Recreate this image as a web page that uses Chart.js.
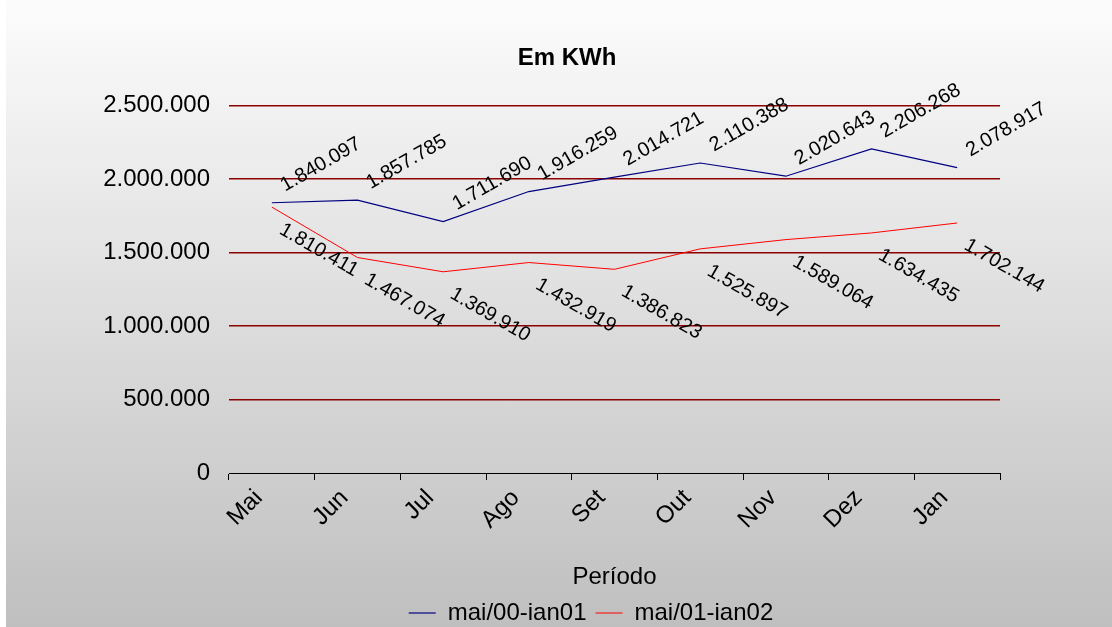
<!DOCTYPE html>
<html>
<head>
<meta charset="utf-8">
<script src="https://cdn.jsdelivr.net/npm/chart.js@4"></script>
<style>
  html, body { margin: 0; padding: 0; background: #fff; overflow: hidden; }
  #wrap {
    position: absolute; left: 6px; top: 0;
    width: 1106px; height: 640px;
    background: linear-gradient(to bottom, #fcfcfc 0px, #bfbfbf 627px, #bdbdbd 640px);
  }
</style>
</head>
<body>
<div id="wrap"><canvas id="consumo"></canvas></div>
<script>
const meses = ['Mai', 'Jun', 'Jul', 'Ago', 'Set', 'Out', 'Nov', 'Dez', 'Jan'];
const serie1 = [1840097, 1857785, 1711690, 1916259, 2014721, 2110388, 2020643, 2206268, 2078917];
const serie2 = [1810411, 1467074, 1369910, 1432919, 1386823, 1525897, 1589064, 1634435, 1702144];
const nomes = ['mai/00-ian01', 'mai/01-ian02'];
const yTicks = [0, 500000, 1000000, 1500000, 2000000, 2500000];

const FONT = "'Liberation Sans', Arial, sans-serif";

// 1840097 -> 1.840.097
function fmt(v) {
    return String(v).replace(/\B(?=(\d{3})+(?!\d))/g, '.');
}

// rotated value labels, like the Excel ones
const valueLabels = {
    id: 'valueLabels',
    afterDatasetsDraw(chart) {
        const ctx = chart.ctx;
        chart.data.datasets.forEach((ds, i) => {
            const meta = chart.getDatasetMeta(i);
            const lo = ds.labelOpts;
            meta.data.forEach((pt, j) => {
                ctx.save();
                ctx.translate(pt.x + lo.dx, pt.y + lo.dy);
                ctx.rotate(lo.angle * Math.PI / 180);
                ctx.font = '20px ' + FONT;
                ctx.fillStyle = '#000';
                ctx.textAlign = 'center';
                ctx.textBaseline = 'middle';
                ctx.fillText(fmt(ds.data[j]), 0, 0);
                ctx.restore();
            });
        });
    }
};

// title and legend are not centred on the canvas in the original
const shiftBlocks = {
    id: 'shiftBlocks',
    afterLayout(chart) {
        chart.titleBlock.left += 64;
        chart.titleBlock.right += 64;
        chart.legend.left += 88;
        chart.legend.right += 88;
    }
};

new Chart(document.getElementById('consumo'), {
    type: 'line',
    data: {
        labels: meses,
        datasets: [{
            label: nomes[0],
            data: serie1,
            borderColor: '#000080',
            backgroundColor: '#000080',
            borderWidth: 1.2,
            pointRadius: 0,
            tension: 0,
            labelOpts: { dx: 49, dy: -38, angle: -30 }
        }, {
            label: nomes[1],
            data: serie2,
            borderColor: '#ff0000',
            backgroundColor: '#ff0000',
            borderWidth: 1,
            pointRadius: 0,
            tension: 0,
            labelOpts: { dx: 47, dy: 43, angle: 30 }
        }]
    },
    plugins: [valueLabels, shiftBlocks],
    options: {
        responsive: true,
        maintainAspectRatio: false,
        animation: false,
        layout: { padding: { left: 0, right: 112, top: 0, bottom: 5 } },
        plugins: {
            title: {
                display: true,
                text: 'Em KWh',
                color: '#000',
                font: { family: FONT, size: 24, weight: 'bold' },
                padding: { top: 44, bottom: 33 }
            },
            legend: {
                position: 'bottom',
                labels: {
                    color: '#000',
                    font: { family: FONT, size: 24 },
                    usePointStyle: true,
                    pointStyle: 'line',
                    pointStyleWidth: 27,
                    padding: 9
                }
            },
            tooltip: { enabled: false }
        },
        scales: {
            x: {
                offset: true,
                grid: {
                    offset: true,
                    drawOnChartArea: false,
                    drawTicks: true,
                    tickLength: 7,
                    color: '#000'
                },
                border: { display: true, color: '#000', width: 1 },
                ticks: {
                    color: '#000',
                    font: { family: FONT, size: 24 },
                    minRotation: 45,
                    maxRotation: 45,
                    autoSkip: false,
                    padding: 4,
                    labelOffset: -13
                },
                title: {
                    display: true,
                    text: 'Período',
                    color: '#000',
                    font: { family: FONT, size: 24 },
                    padding: { top: 0, bottom: 0 }
                },
                afterFit(scale) { scale.height = 119; }
            },
            y: {
                min: 0,
                max: 2500000,
                afterBuildTicks(scale) {
                    scale.ticks = yTicks.map(v => ({ value: v }));
                },
                grid: {
                    drawTicks: false,
                    // no red line under the black x axis
                    color: c => (c.tick && c.tick.value === 0) ? 'rgba(0,0,0,0)' : '#8b0000',
                    lineWidth: 1.5
                },
                border: { display: false },
                ticks: {
                    color: '#000',
                    font: { family: FONT, size: 24 },
                    padding: 19,
                    callback: v => fmt(v)
                },
                afterFit(scale) { scale.width = 223; }
            }
        }
    }
});
</script>
</body>
</html>
